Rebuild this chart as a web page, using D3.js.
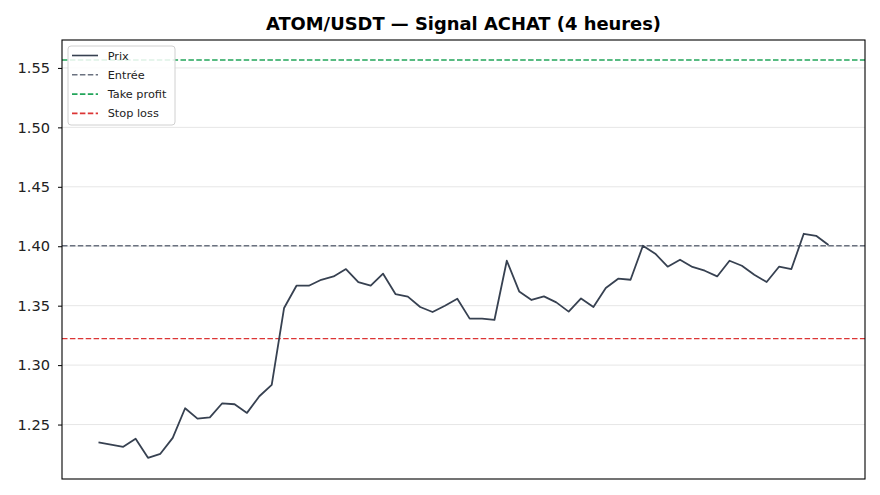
<!DOCTYPE html>
<html lang="fr">
  <head>
    <meta charset="UTF-8" />
    <title>ATOM/USDT signal</title>
    <script src="https://d3js.org/d3.v7.min.js"></script>
    <style>
      body { margin: 0; background: #fff; }
      text { font-family: "DejaVu Sans", sans-serif; }
    </style>
  </head>
  <body>
    <svg width="880" height="495"></svg>
    <script>
      // close prices, one per 4h candle
      const prix = [
        1.2351, 1.2332, 1.2313, 1.2380, 1.2220, 1.2254, 1.2388, 1.2637, 1.2550, 1.2561,
        1.2679, 1.2671, 1.2598, 1.2738, 1.2834, 1.3481, 1.3668, 1.3668, 1.3718, 1.3746,
        1.3808, 1.3699, 1.3668, 1.3769, 1.3598, 1.3576, 1.3489, 1.3447, 1.3500, 1.3559,
        1.3391, 1.3391, 1.3380, 1.3878, 1.3620, 1.3548, 1.3578, 1.3528, 1.3450, 1.3561,
        1.3489, 1.3649, 1.3727, 1.3718, 1.4004, 1.3937, 1.3828, 1.3887, 1.3826, 1.3794,
        1.3746, 1.3878, 1.3836, 1.3761, 1.3699, 1.3828, 1.3808, 1.4105, 1.4088, 1.4010
      ];
      const niveaux = [
        { label: "Entrée", value: 1.4004, color: "#6b7280" },
        { label: "Take profit", value: 1.5567, color: "#22a55a" },
        { label: "Stop loss", value: 1.3223, color: "#dc3535" }
      ];
      const yTicks = [1.25, 1.30, 1.35, 1.40, 1.45, 1.50, 1.55];
      const titre = "ATOM/USDT — Signal ACHAT (4 heures)";

      const pLeft = 62, pRight = 865, pTop = 40, pBottom = 479;
      const svg = d3.select("svg");

      const x = d3.scaleLinear().domain([-2.95, prix.length - 1 + 2.95]).range([pLeft, pRight]);
      const y = d3.scaleLinear().domain([1.2042, 1.5735]).range([pBottom, pTop]);

      // grid
      svg.append("g")
        .selectAll("line")
        .data(yTicks)
        .enter()
        .append("line")
        .attr("x1", pLeft).attr("x2", pRight)
        .attr("y1", d => y(d)).attr("y2", d => y(d))
        .attr("stroke", "#e6e6e6")
        .attr("stroke-width", 1);

      // y axis
      const yAxis = svg.append("g")
        .attr("transform", `translate(${pLeft},0)`)
        .call(d3.axisLeft(y).tickValues(yTicks).tickFormat(d3.format(".2f")).tickSize(4).tickPadding(8));
      yAxis.select(".domain").remove();
      yAxis.selectAll("line").attr("stroke", "#000").attr("stroke-width", 1);
      yAxis.selectAll("text").attr("font-size", 14.6).attr("fill", "#222")
        .attr("font-family", "DejaVu Sans, sans-serif");

      // levels
      svg.append("g")
        .selectAll("line")
        .data(niveaux)
        .enter()
        .append("line")
        .attr("x1", pLeft).attr("x2", pRight)
        .attr("y1", d => y(d.value)).attr("y2", d => y(d.value))
        .attr("stroke", d => d.color)
        .attr("stroke-width", 1.4)
        .attr("stroke-dasharray", "5.5,2.4");

      // price line
      const line = d3.line().x((d, i) => x(i)).y(d => y(d));
      svg.append("path")
        .datum(prix)
        .attr("d", line)
        .attr("fill", "none")
        .attr("stroke", "#374151")
        .attr("stroke-width", 1.8)
        .attr("stroke-linejoin", "round");

      // frame
      svg.append("rect")
        .attr("x", pLeft).attr("y", pTop)
        .attr("width", pRight - pLeft).attr("height", pBottom - pTop)
        .attr("fill", "none").attr("stroke", "#000").attr("stroke-width", 1.1);

      // title
      svg.append("text")
        .attr("x", (pLeft + pRight) / 2).attr("y", 30)
        .attr("text-anchor", "middle")
        .attr("font-size", 17.9).attr("font-weight", "bold")
        .text(titre);

      // legend
      const items = [{ label: "Prix", color: "#374151", dash: null }]
        .concat(niveaux.map(d => ({ label: d.label, color: d.color, dash: "5.5,2.4" })));
      const lg = svg.append("g").attr("transform", "translate(68,46)");
      lg.append("rect")
        .attr("width", 107).attr("height", 79).attr("rx", 3)
        .attr("fill", "#fff").attr("fill-opacity", 0.85)
        .attr("stroke", "#d0d0d0");
      const row = lg.selectAll("g.item").data(items).enter().append("g")
        .attr("class", "item")
        .attr("transform", (d, i) => `translate(0,${9.5 + i * 19.3})`);
      row.append("line")
        .attr("x1", 4).attr("x2", 30).attr("y1", 0).attr("y2", 0)
        .attr("stroke", d => d.color).attr("stroke-width", 1.6)
        .attr("stroke-dasharray", d => d.dash);
      row.append("text")
        .attr("x", 39.7).attr("y", 4)
        .attr("font-size", 11.3).attr("fill", "#222")
        .text(d => d.label);
    </script>
  </body>
</html>
